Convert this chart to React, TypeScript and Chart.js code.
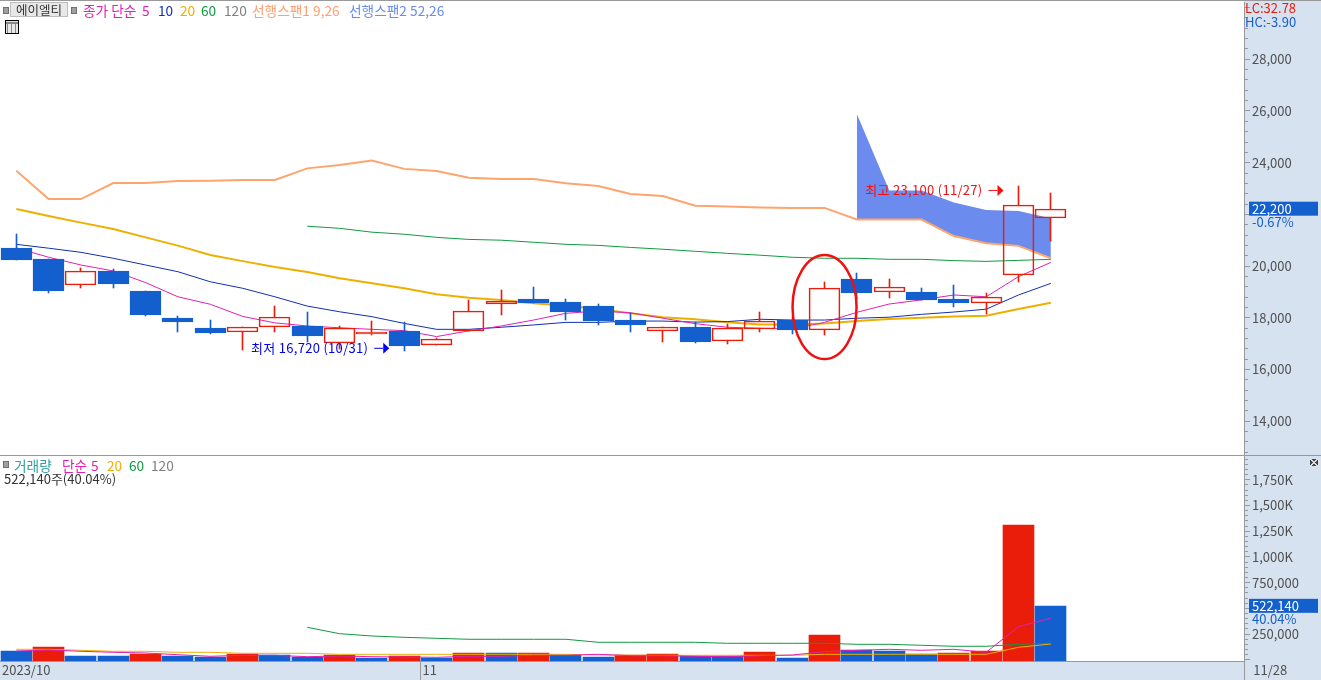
import React, { useEffect, useRef } from 'react'
import { Chart, registerables } from 'chart.js'

Chart.register(...registerables)

const tradeDates = [
  '10/13', '10/16', '10/17', '10/18', '10/19', '10/20', '10/23', '10/24', '10/25', '10/26', '10/27',
  '10/30', '10/31', '11/01', '11/02', '11/03', '11/06', '11/07', '11/08', '11/09', '11/10', '11/13',
  '11/14', '11/15', '11/16', '11/17', '11/20', '11/21', '11/22', '11/23', '11/24', '11/27', '11/28',
]

const opens = [20700, 20270, 19250, 19810, 19030, 17990, 17600, 17440, 17630, 17680, 17010, 17380, 17490, 16930, 17470, 18520, 18720, 18610, 18450, 17910, 17500, 17640, 17090, 17570, 17910, 17510, 19500, 18980, 19000, 18720, 18560, 19640, 21850]
const highs = [21240, 20270, 19920, 19880, 19030, 18070, 17910, 17630, 18440, 18220, 17680, 17870, 17830, 17200, 18690, 19070, 19180, 18720, 18530, 18170, 17630, 17850, 17760, 18220, 17990, 19380, 19730, 19500, 19150, 19270, 18960, 23100, 22830]
const lows = [20230, 18970, 19160, 19160, 18080, 17460, 17380, 16760, 17460, 17070, 16800, 17340, 16720, 16930, 17470, 18120, 18570, 17910, 17720, 17450, 17070, 17020, 16980, 17450, 17370, 17330, 18720, 18760, 18690, 18410, 18140, 19380, 20980]
const closes = [20230, 19050, 19800, 19320, 18120, 17850, 17420, 17630, 18020, 17300, 17590, 17450, 16920, 17160, 18250, 18630, 18570, 18220, 17870, 17720, 17630, 17060, 17590, 17870, 17520, 19140, 18970, 19180, 18690, 18570, 18790, 22350, 22200]

const ma5 = [20700, 20340, 20040, 19810, 19360, 18810, 18520, 18050, 17800, 17680, 17610, 17550, 17500, 17270, 17490, 17680, 17910, 18170, 18260, 18190, 17980, 17770, 17630, 17590, 17560, 17820, 18210, 18530, 18690, 18880, 18810, 19590, 20140]
const ma10 = [20840, 20690, 20530, 20300, 20040, 19780, 19390, 19140, 18810, 18450, 18230, 18040, 17780, 17550, 17550, 17630, 17720, 17820, 17820, 17870, 17870, 17830, 17850, 17940, 17910, 17910, 17980, 18020, 18130, 18220, 18330, 18880, 19330]
const ma20 = [22210, 21940, 21680, 21430, 21110, 20790, 20430, 20190, 19960, 19770, 19530, 19330, 19140, 18910, 18770, 18690, 18560, 18460, 18340, 18170, 18020, 17940, 17820, 17740, 17740, 17780, 17870, 17950, 18000, 18050, 18080, 18340, 18580]
// 60일선은 10/26 부터 표시됨
const ma60 = [null, null, null, null, null, null, null, null, null, 21540, 21460, 21310, 21230, 21110, 21030, 21000, 20920, 20840, 20800, 20720, 20650, 20570, 20490, 20420, 20340, 20300, 20300, 20260, 20260, 20210, 20180, 20220, 20260]
const span1 = [23690, 22590, 22590, 23210, 23210, 23290, 23300, 23330, 23330, 23780, 23910, 24080, 23760, 23680, 23420, 23370, 23370, 23200, 23100, 22790, 22710, 22330, 22300, 22270, 22250, 22250, 21800, 21800, 21800, 21160, 20880, 20780, 20300]
const span2 = [null, null, null, null, null, null, null, null, null, null, null, null, null, null, null, null, null, null, null, null, null, null, null, null, null, null, 25880, 22920, 22920, 22460, 22170, 22130, 21850]

const volumes = [84600, 123500, 36000, 36000, 58400, 38900, 26300, 58400, 42800, 29200, 42800, 16500, 36000, 19500, 65200, 65200, 65500, 45700, 26300, 42800, 55400, 36000, 36000, 74900, 16500, 240300, 91400, 84600, 52500, 65200, 81700, 1310000, 522140]
const volMa5 = [84600, 94400, 81700, 72000, 65200, 48600, 33100, 42800, 42800, 29200, 36000, 29200, 26300, 23300, 33100, 33100, 42800, 42800, 52500, 38900, 38900, 33100, 29200, 38900, 45700, 77800, 91400, 101200, 91400, 101200, 72000, 321000, 402700]
const volMa20 = [101200, 101200, 91400, 81700, 81700, 72000, 72000, 62300, 62300, 62300, 52500, 52500, 52500, 52500, 52500, 52500, 52500, 52500, 45700, 42800, 42800, 42800, 42800, 42800, 42800, 52500, 52500, 52500, 52500, 52500, 52500, 120600, 152700]
const volMa60 = [null, null, null, null, null, null, null, null, null, 315200, 252900, 230600, 217900, 208200, 198500, 198500, 198500, 198500, 169300, 169300, 169300, 169300, 159500, 159500, 159500, 159500, 149800, 149800, 140100, 130400, 130400, 149800, 159500]

const xAxisLabels = ['2023/10', '11', '', '11/28']

const priceLegend = [
  { text: '종가 단순', color: '#E020B4', left: 83 },
  { text: '5', color: '#E020B4', left: 142 },
  { text: '10', color: '#1030B0', left: 158 },
  { text: '20', color: '#F0B000', left: 180 },
  { text: '60', color: '#109A40', left: 201 },
  { text: '120', color: '#808080', left: 224 },
  { text: '선행스팬1 9,26', color: '#FFA070', left: 252 },
  { text: '선행스팬2 52,26', color: '#6B8CEE', left: 349 },
]
const volumeLegend = [
  { text: '거래량', color: '#30A0A0', left: 14 },
  { text: '단순', color: '#E020B4', left: 62 },
  { text: '5', color: '#E020B4', left: 91 },
  { text: '20', color: '#F0B000', left: 107 },
  { text: '60', color: '#109A40', left: 129 },
  { text: '120', color: '#808080', left: 151 },
]

const RED = '#EA1C0A'
const BLUE = '#135FCD'
const PANEL = '#D6E2F0'
const LINE_GRAY = '#999999'
const FONT = '"Noto Sans CJK KR", "Noto Sans", sans-serif'

const X_MIN = -0.504
const X_MAX = 37.974

const points = (values: (number | null)[]) =>
  values.map((y, x) => ({ x, y })).filter((p) => p.y !== null)

const lineSet = (label: string, values: (number | null)[], color: string, width: number, order: number) => ({
  type: 'line' as const,
  label,
  data: points(values),
  borderColor: color,
  borderWidth: width,
  pointRadius: 0,
  tension: 0,
  order,
})

const barSet = (label: string, data: any[], background: any, order: number, thickness = 31) => ({
  type: 'bar' as const,
  label,
  data,
  backgroundColor: background,
  barThickness: thickness,
  grouped: false,
  order,
})

const isUp = (i: number) => closes[i] >= opens[i]

const fixPadding = (scale: any) => {
  scale.paddingLeft = 0
  scale.paddingRight = 0
  scale.paddingTop = 0
  scale.paddingBottom = 0
}

const yAxis = (min: number, max: number, step: number, major: number, label: (v: number) => string) => ({
  position: 'right' as const,
  min,
  max,
  afterBuildTicks: (scale: any) => {
    const ticks = []
    for (let v = Math.ceil(min / step) * step; v <= max; v += step) ticks.push({ value: v })
    scale.ticks = ticks
  },
  afterFit: (scale: any) => {
    scale.width = 77
    fixPadding(scale)
  },
  border: { color: LINE_GRAY },
  grid: {
    drawOnChartArea: false,
    tickLength: 6,
    tickColor: LINE_GRAY,
    tickBorderDash: (ctx: any) => (ctx.tick.value % major === 0 ? [] : [3, 10]),
  },
  ticks: {
    autoSkip: false,
    padding: 2,
    color: '#505050',
    font: { family: FONT, size: 13 },
    callback: (v: any) => label(Number(v)),
  },
})

const xAxis = (extra: object) => ({
  type: 'linear',
  min: X_MIN,
  max: X_MAX,
  offset: false,
  ...extra,
})

// 봉이 픽셀에 맞게 그려지도록 좌표를 정수로 맞춤
const snapBars = {
  id: 'snapBars',
  beforeDatasetsDraw(chart: any) {
    chart.getSortedVisibleDatasetMetas().forEach((meta: any) => {
      if (meta.type !== 'bar') return
      meta.data.forEach((el: any) => {
        el.x = Math.floor(el.x) + 0.5
        el.y = Math.round(el.y)
        el.base = Math.round(el.base)
      })
    })
  },
}

const drawTag = (ctx: CanvasRenderingContext2D, y: number, value: string, change: string) => {
  ctx.fillStyle = BLUE
  ctx.fillRect(1249, y - 7, 69, 14)
  ctx.font = `13px ${FONT}`
  ctx.textBaseline = 'middle'
  ctx.textAlign = 'left'
  ctx.fillStyle = '#FFFFFF'
  ctx.fillText(value, 1252, y)
  ctx.fillStyle = BLUE
  ctx.fillText(change, 1252, y + 13)
}

const drawNote = (ctx: any, text: string, color: string, right: number, y: number) => {
  ctx.font = `13px ${FONT}`
  ctx.letterSpacing = '0.3px'
  ctx.textBaseline = 'middle'
  ctx.textAlign = 'right'
  ctx.fillStyle = color
  ctx.fillText(text, right, y)
  ctx.letterSpacing = '0px'
  ctx.strokeStyle = color
  ctx.lineWidth = 1
  ctx.beginPath()
  ctx.moveTo(right + 6, y + 0.5)
  ctx.lineTo(right + 15, y + 0.5)
  ctx.stroke()
  ctx.beginPath()
  ctx.moveTo(right + 15, y - 5)
  ctx.lineTo(right + 21, y + 0.5)
  ctx.lineTo(right + 15, y + 6)
  ctx.fill()
}

const priceNotes = {
  id: 'priceNotes',
  afterDraw(chart: any) {
    const { ctx, scales } = chart
    const hi = closes.length - 2
    const lo = lows.indexOf(Math.min(...lows))
    ctx.save()
    // 11/17 장대양봉 표시 원
    ctx.strokeStyle = '#F01010'
    ctx.lineWidth = 2.5
    ctx.beginPath()
    ctx.ellipse(scales.x.getPixelForValue(25), scales.y.getPixelForValue(18410), 32, 52, 0, 0, Math.PI * 2)
    ctx.stroke()
    drawNote(ctx, '최고 23,100 (11/27)', '#F01010', scales.x.getPixelForValue(hi) - 36, scales.y.getPixelForValue(highs[hi]) + 4)
    drawNote(ctx, '최저 16,720 (10/31)', '#0000F0', scales.x.getPixelForValue(lo) - 36, scales.y.getPixelForValue(lows[lo]) - 3)
    drawTag(ctx, scales.y.getPixelForValue(closes[closes.length - 1]) - 0.5, '22,200', '-0.67%')
    ctx.font = `13px ${FONT}`
    ctx.textBaseline = 'middle'
    ctx.textAlign = 'left'
    ctx.fillStyle = RED
    ctx.fillText('LC:32.78', 1245, 6)
    ctx.fillStyle = BLUE
    ctx.fillText('HC:-3.90', 1245, 20)
    ctx.restore()
  },
}

const volumeNotes = {
  id: 'volumeNotes',
  afterDraw(chart: any) {
    const { ctx, scales } = chart
    ctx.save()
    drawTag(ctx, scales.y.getPixelForValue(volumes[volumes.length - 1]) - 0.2, '522,140', '40.04%')
    ctx.restore()
  },
}

const legendRow = (rows: { text: string; color: string; left: number }[], top: number) =>
  rows.map((r) => (
    <span key={r.text} style={{ position: 'absolute', left: r.left, top, color: r.color, fontSize: 13.7, lineHeight: '16px', whiteSpace: 'nowrap' }}>
      {r.text}
    </span>
  ))

const Square = ({ left, top }: { left: number; top: number }) => (
  <div style={{ position: 'absolute', left, top, width: 4, height: 5, background: '#A0A0A0', border: '1px solid #707070' }} />
)

export default function App() {
  const priceRef = useRef<HTMLCanvasElement | null>(null)
  const volumeRef = useRef<HTMLCanvasElement | null>(null)

  useEffect(() => {
    if (!priceRef.current || !volumeRef.current) return

    const bodies = opens.map((o, i) => ({ x: i, y: [o, closes[i]] }))
    const upperWicks = highs.map((h, i) => ({ x: i, y: [Math.max(opens[i], closes[i]), h] }))
    const lowerWicks = lows.map((l, i) => ({ x: i, y: [l, Math.min(opens[i], closes[i])] }))
    const wickColors = opens.map((_, i) => (isUp(i) ? RED : BLUE))

    const priceChart = new Chart(priceRef.current, {
      type: 'bar',
      data: {
        datasets: [
          {
            ...barSet('body', bodies, opens.map((_, i) => (isUp(i) ? 'rgba(255,255,255,0)' : BLUE)), 1),
            borderColor: opens.map((_, i) => (isUp(i) ? RED : BLUE)),
            borderWidth: 1,
            borderSkipped: false,
          },
          barSet('upper wick', upperWicks, wickColors, 2, 1),
          barSet('lower wick', lowerWicks, wickColors, 2, 1),
          lineSet('단순 5', ma5, '#E020B4', 1, 3),
          lineSet('단순 10', ma10, '#1030B0', 1, 4),
          lineSet('단순 20', ma20, '#EDB000', 2, 5),
          lineSet('단순 60', ma60, '#109A40', 1, 6),
          lineSet('선행스팬1', span1, '#FFA46C', 2, 7),
          {
            ...lineSet('선행스팬2', span2, 'rgba(0,0,0,0)', 0, 8),
            fill: { target: '-1', above: '#6B8CEE', below: '#6B8CEE' },
          },
        ] as any,
      },
      options: {
        responsive: false,
        animation: false,
        events: [],
        layout: { padding: 0 },
        plugins: { legend: { display: false }, tooltip: { enabled: false } },
        scales: {
          x: xAxis({ display: false }),
          y: yAxis(12687, 30218, 400, 2000, (v) =>
            v % 2000 === 0 && v >= 14000 && v <= 28000 && v !== 22000 ? v.toLocaleString('en-US') : ''
          ),
        },
      } as any,
      plugins: [snapBars, priceNotes],
    })

    const volumeBars = volumes.map((v, i) => ({ x: i, y: v }))
    const volumeColors = volumes.map((v, i) => (i > 0 && v > volumes[i - 1] ? RED : BLUE))
    const firstNovember = tradeDates.indexOf('11/01') - 0.5
    const xTicks = [X_MIN, firstNovember, X_MAX, 38.2]

    const volumeChart = new Chart(volumeRef.current, {
      type: 'bar',
      data: {
        datasets: [
          { ...barSet('거래량', volumeBars, volumeColors, 4), base: -12646 },
          lineSet('단순 5', volMa5, '#E020B4', 1, 1),
          lineSet('단순 20', volMa20, '#EDB000', 1, 2),
          lineSet('단순 60', volMa60, '#109A40', 1, 3),
        ] as any,
      },
      options: {
        responsive: false,
        animation: false,
        events: [],
        layout: { padding: 0 },
        plugins: { legend: { display: false }, tooltip: { enabled: false } },
        scales: {
          x: xAxis({
            afterBuildTicks: (scale: any) => {
              scale.ticks = xTicks.map((value) => ({ value }))
            },
            afterFit: (scale: any) => {
              scale.height = 19
              fixPadding(scale)
            },
            border: { color: LINE_GRAY },
            grid: {
              offset: false,
              drawOnChartArea: false,
              tickLength: 19,
              tickColor: (ctx: any) => (ctx.index === 1 || ctx.index === 2 ? LINE_GRAY : 'rgba(0,0,0,0)'),
            },
            ticks: {
              autoSkip: false,
              maxRotation: 0,
              align: 'start',
              labelOffset: 2,
              padding: -18,
              color: '#505050',
              font: { family: FONT, size: 13 },
              callback: (_: any, i: number) => xAxisLabels[i],
            },
          }),
          y: yAxis(-12646, 1981600, 50000, 250000, (v) => {
            if (v % 250000 !== 0 || v <= 0 || v === 500000) return ''
            return v >= 1000000 ? `${(v / 1000).toLocaleString('en-US')}K` : v.toLocaleString('en-US')
          }),
        },
      } as any,
      plugins: [snapBars, volumeNotes],
    })

    return () => {
      priceChart.destroy()
      volumeChart.destroy()
    }
  }, [])

  return (
    <div style={{ position: 'fixed', left: 0, top: 0, width: 1321, height: 680, overflow: 'hidden', background: PANEL, fontFamily: FONT }}>
      <div style={{ position: 'absolute', left: 0, top: 0, width: 1321, height: 1, background: LINE_GRAY }} />
      <div style={{ position: 'absolute', left: 0, top: 1, width: 1244, height: 454, background: '#FFFFFF' }} />
      <div style={{ position: 'absolute', left: 0, top: 455, width: 1321, height: 1, background: LINE_GRAY }} />
      <div style={{ position: 'absolute', left: 0, top: 456, width: 1244, height: 205, background: '#FFFFFF' }} />

      <canvas ref={priceRef} width={1321} height={453} style={{ position: 'absolute', left: 0, top: 2, display: 'block' }} />
      <canvas ref={volumeRef} width={1321} height={224} style={{ position: 'absolute', left: 0, top: 456, display: 'block' }} />

      <Square left={3} top={7} />
      <div style={{ position: 'absolute', left: 10, top: 2, width: 56, height: 13, background: '#E8E8E8', border: '1px solid #BDBDBD', textAlign: 'center', fontSize: 12.5, lineHeight: '13px', color: '#333333' }}>
        에이엘티
      </div>
      <Square left={71} top={7} />
      {legendRow(priceLegend, 2)}
      <div
        style={{
          position: 'absolute',
          left: 5,
          top: 20,
          width: 12,
          height: 12,
          border: '1px solid #000000',
          background:
            'linear-gradient(#E0E0E0 0 1px, #888888 1px 3px, transparent 3px), repeating-linear-gradient(90deg, #E8E8E8 0 1px, #888888 1px 2px, #E8E8E8 2px 4px)',
        }}
      />

      <Square left={3} top={461} />
      {legendRow(volumeLegend, 457)}
      <span style={{ position: 'absolute', left: 4, top: 471, color: '#333333', fontSize: 13, lineHeight: '16px', whiteSpace: 'nowrap' }}>
        522,140주(40.04%)
      </span>
      <div
        style={{
          position: 'absolute',
          left: 1310,
          top: 459,
          width: 8,
          height: 7,
          background:
            'linear-gradient(45deg, transparent 42%, #DDDDDD 42% 58%, transparent 58%), linear-gradient(-45deg, transparent 42%, #DDDDDD 42% 58%, transparent 58%), #444444',
        }}
      />
    </div>
  )
}
